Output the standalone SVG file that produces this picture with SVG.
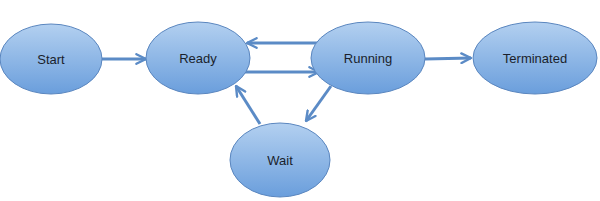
<svg xmlns="http://www.w3.org/2000/svg" width="600" height="201" viewBox="0 0 600 201">
<defs>
<linearGradient id="g" x1="0" y1="0" x2="0" y2="1">
<stop offset="0" stop-color="#b3d0f0"/>
<stop offset="1" stop-color="#6a9edc"/>
</linearGradient>
<marker id="ah" viewBox="0 0 10 10" refX="9" refY="5" markerWidth="4" markerHeight="4" orient="auto" markerUnits="strokeWidth">
<path d="M1,1 L9,5 L1,9" fill="none" stroke="#5b8bc6" stroke-width="2" stroke-linecap="round" stroke-linejoin="round"/>
</marker>
</defs>
<style>
.node ellipse{fill:url(#g);stroke:#5a86bf;stroke-width:1}
.node text{font-family:"Liberation Sans",Arial,sans-serif;font-size:13px;fill:#1a1f2c;text-anchor:middle}
.edge{stroke:#5b8bc6;stroke-width:3;fill:none;marker-end:url(#ah)}
</style>
<rect width="600" height="201" fill="#ffffff"/>
<g id="connectors">
<line class="edge" x1="102" y1="59" x2="146" y2="59"/>
<line class="edge" x1="318" y1="43" x2="247" y2="43"/>
<line class="edge" x1="245" y1="72" x2="319" y2="72"/>
<line class="edge" x1="260" y1="124" x2="236" y2="86"/>
<line class="edge" x1="331" y1="86" x2="306" y2="121"/>
<line class="edge" x1="425" y1="59" x2="471" y2="58"/>
</g>
<g id="start" class="node"><ellipse cx="51" cy="59" rx="51" ry="35"/><text x="51" y="64">Start</text></g>
<g id="ready" class="node"><ellipse cx="198" cy="58" rx="52" ry="36"/><text x="198" y="63">Ready</text></g>
<g id="running" class="node"><ellipse cx="368" cy="58" rx="57" ry="36"/><text x="368" y="63">Running</text></g>
<g id="terminated" class="node"><ellipse cx="535" cy="58" rx="62" ry="36"/><text x="535" y="63">Terminated</text></g>
<g id="wait" class="node"><ellipse cx="280" cy="160" rx="50" ry="37"/><text x="280" y="165">Wait</text></g>
</svg>
